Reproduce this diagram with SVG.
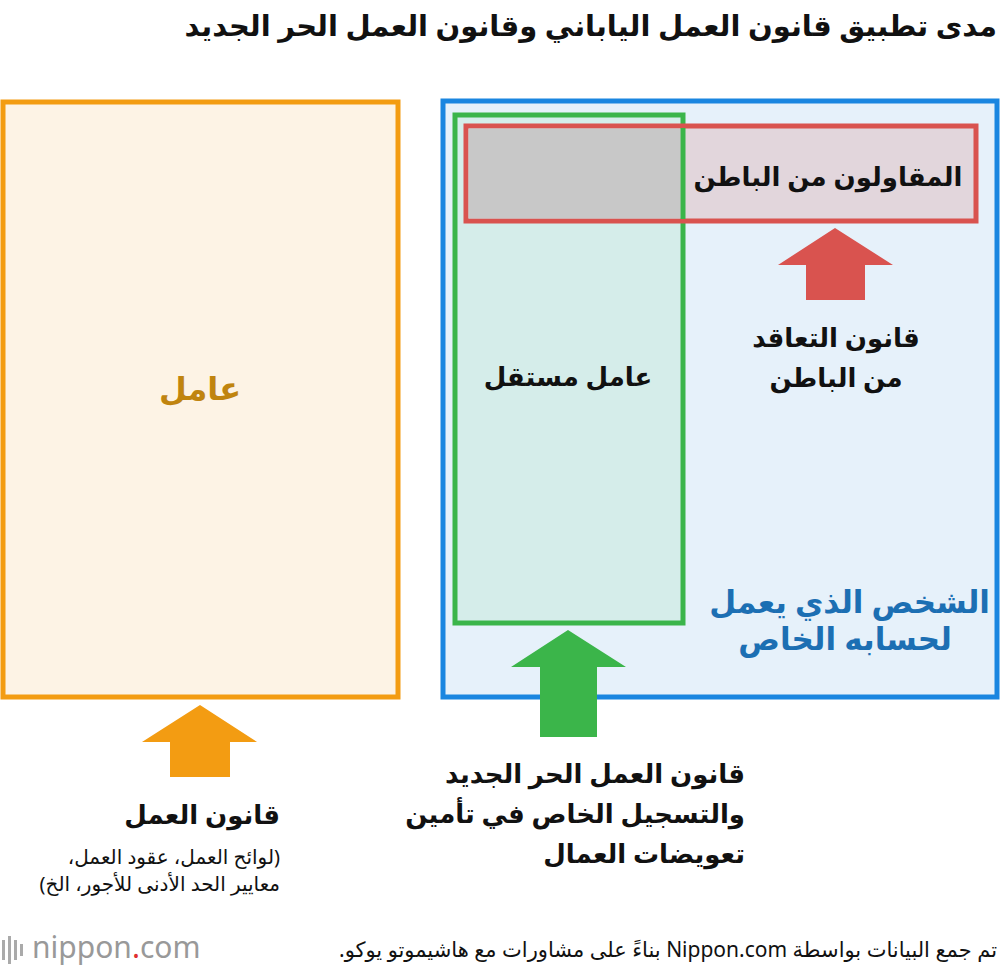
<svg xmlns="http://www.w3.org/2000/svg" width="1000" height="970" viewBox="0 0 1000 970">
<style>
text{font-family:"Noto Sans","DejaVu Sans",sans-serif;}
.b{font-weight:bold;font-size:26px;fill:#111;}
.s{font-size:20px;fill:#111;}
.r{direction:rtl;text-anchor:start;}
</style>
<rect width="1000" height="970" fill="#fff"/>
<text class="b r" x="997" y="36" direction="rtl" style="font-size:29px">مدى تطبيق قانون العمل الياباني وقانون العمل الحر الجديد</text>
<g id="worker"><rect x="3" y="102" width="395" height="595" fill="#FDF3E5" stroke="#F39C12" stroke-width="5"/>
<text x="200" y="400" text-anchor="middle" font-weight="bold" font-size="32" fill="#C0840F">عامل</text></g>
<g id="self-employed"><rect x="443" y="101" width="554" height="596" fill="#E6F1FA" stroke="#1A86E0" stroke-width="5"/>
<text class="r" x="990" y="613" direction="rtl" font-weight="bold" font-size="31" fill="#1C6FB3">الشخص الذي يعمل</text>
<text x="845" y="650" text-anchor="middle" font-weight="bold" font-size="31" fill="#1C6FB3">لحسابه الخاص</text></g>
<g id="freelancer"><rect x="455" y="115" width="228" height="508" fill="#D5EDEA" stroke="#3BB54A" stroke-width="5"/>
<text class="b" x="568" y="386" text-anchor="middle">عامل مستقل</text></g>
<g id="subcontractor"><rect x="466" y="126" width="510" height="95" fill="#E2D6DC" stroke="#D9534F" stroke-width="5"/>
<rect x="468.5" y="128.5" width="212" height="90" fill="#C8C8C8"/>
<line x1="683" y1="128" x2="683" y2="219" stroke="#3BB54A" stroke-width="5"/>
<text class="b" x="828" y="186" text-anchor="middle">المقاولون من الباطن</text></g>
<g id="connectors">
<polygon points="835,228 893,265 865,265 865,300 806,300 806,265 778,265" fill="#D9534F"/>
<polygon points="568,630 626,667 597,667 597,737 540,737 540,667 511,667" fill="#3BB54A"/>
<polygon points="200,705 257,742 230,742 230,777 170,777 170,742 142,742" fill="#F39C12"/>
</g>
<g id="labels">
<text class="b" x="836" y="347" text-anchor="middle">قانون التعاقد</text>
<text class="b" x="836" y="387" text-anchor="middle">من الباطن</text>
<text class="b r" x="745" y="783" direction="rtl">قانون العمل الحر الجديد</text>
<text class="b r" x="745" y="823" direction="rtl">والتسجيل الخاص في تأمين</text>
<text class="b r" x="745" y="863" direction="rtl">تعويضات العمال</text>
<text class="b r" x="280" y="824" direction="rtl">قانون العمل</text>
<text class="s r" x="280" y="864" direction="rtl">(لوائح العمل، عقود العمل،</text>
<text class="s r" x="280" y="891" direction="rtl">معايير الحد الأدنى للأجور، الخ)</text>
</g>
<g id="footer">
<g fill="#aaa"><rect x="2" y="940" width="3" height="20"/><rect x="8" y="936" width="3" height="28"/><rect x="14" y="940" width="3" height="20"/><rect x="20" y="944" width="3" height="12"/></g>
<text x="32" y="958" font-size="30" fill="#999" font-family="Roboto,sans-serif">nippon<tspan fill="#E03030">.</tspan>com</text>
<text class="s r" x="997" y="957" direction="rtl" style="font-size:21px">تم جمع البيانات بواسطة Nippon.com بناءً على مشاورات مع هاشيموتو يوكو.</text>
</g>
</svg>
